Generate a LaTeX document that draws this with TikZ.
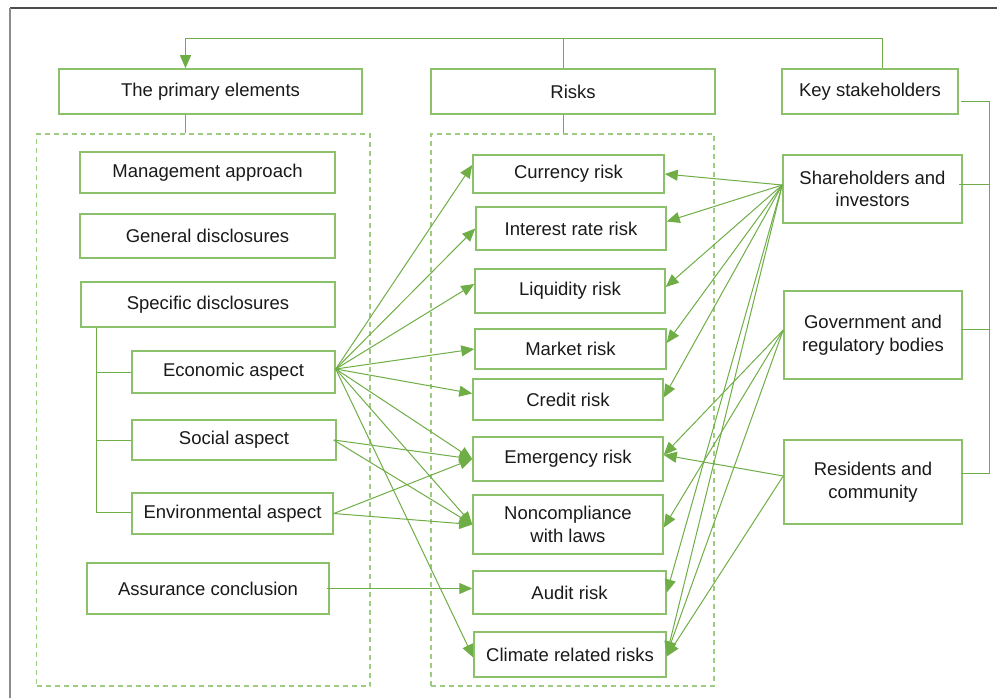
\documentclass[tikz,border=0pt]{standalone}
\usepackage{fontspec}
\setmainfont{Liberation Sans}
\usetikzlibrary{arrows.meta,calc}
\definecolor{boxgreen}{HTML}{8BC16A}
\definecolor{linegreen}{HTML}{6FAD46}
\definecolor{dashgreen}{HTML}{9DCB80}
\definecolor{txt}{HTML}{1A1A1A}
\newcommand\mkbox[6]{\node[box,minimum width=#4pt,minimum height=#5pt] (#1) at (#2,#3) {#6};}
\begin{document}
\begin{tikzpicture}[x=1pt,y=-1pt,
  box/.style={draw=boxgreen, fill=white, line width=1.5pt, inner sep=0pt, align=center, text=txt, font=\fontsize{18.5}{22.5}\selectfont},
  grp/.style={draw=dashgreen, line width=1.3pt, dash pattern=on 5pt off 4pt, inner sep=0pt},
  conn/.style={draw=linegreen, line width=1pt},
  arr/.style={conn, -{Triangle[length=13pt,width=11pt]}},
  frame/.style={draw=gray, line width=1.5pt}
]
\useasboundingbox (0,0) rectangle (997,698);
% outer frame
\coordinate (fo) at (10,8);
\coordinate (fr) at (997,8);
\coordinate (fb) at (10,698);
\draw[frame, draw=black!70, line width=1.2pt] (fo) -- (fr);
\draw[frame, draw=black!45] (fo) -- (fb);

% dashed groups
\node[grp, minimum width=333.5pt, minimum height=552pt] (lg) at (203.25,410) {};
\node[grp, minimum width=283pt, minimum height=552pt] (mg) at (572.5,410) {};

% header boxes
\mkbox{prim}{210.5}{91.5}{303}{45}{The primary elements}
\mkbox{risks}{573}{91.5}{284}{45}{Risks}
\mkbox{keys}{870}{91.5}{176}{45}{Key stakeholders}

% left column
\mkbox{mgmt}{207.5}{172.5}{255}{41}{Management approach}
\mkbox{gen}{207.5}{236}{255}{44}{General disclosures}
\mkbox{spec}{208}{304.5}{254}{45}{Specific disclosures}
\mkbox{econ}{233.5}{372}{203}{42}{Economic aspect}
\mkbox{soc}{234}{440}{204}{40}{Social aspect}
\mkbox{env}{232.5}{513.5}{201}{41}{Environmental aspect}
\mkbox{assur}{208}{588.5}{242}{51}{Assurance conclusion}

% risks column
\mkbox{cur}{568.5}{174}{191}{38}{Currency risk}
\mkbox{int}{571}{228.5}{190}{43}{Interest rate risk}
\mkbox{liq}{570}{291}{190}{44}{Liquidity risk}
\mkbox{mkt}{570.5}{349}{191}{40}{Market risk}
\mkbox{cred}{568}{399.5}{190}{41}{Credit risk}
\mkbox{emer}{568}{459}{190}{44}{Emergency risk}
\mkbox{nonc}{568}{524.5}{190}{59}{Noncompliance\\with laws}
\mkbox{audit}{569.5}{592.5}{193}{43}{Audit risk}
\mkbox{clim}{570}{654.5}{192}{45}{Climate related risks}

% stakeholders column
\mkbox{share}{872.5}{189}{179}{68}{Shareholders and\\investors}
\mkbox{gov}{873}{335}{178}{88}{Government and\\regulatory bodies}
\mkbox{res}{873}{482}{178}{84}{Residents and\\community}

% top connector
\coordinate (topy) at (0,39);
\coordinate (ka) at ([xshift=12pt]keys.north);
\coordinate (pa) at ([xshift=-25pt]prim.north);
\coordinate (ra) at ([xshift=-10pt]risks.north);
\draw[arr] (ka) -- (ka |- topy) -- (pa |- topy) -- (pa);
\draw[conn] (ra) -- (ra |- topy);

% header to groups
\coordinate (pb) at ([xshift=-25pt]prim.south);
\coordinate (rbm) at ([xshift=-10pt]risks.south);
\draw[conn] (pb) -- (pb |- lg.north);
\draw[conn] (rbm) -- (rbm |- mg.north);

% left bracket
\coordinate (lb) at (96,0);
\draw[conn] (spec.south -| lb) |- ([yshift=1pt]env.west);
\draw[conn] (econ.west -| lb) -- (econ.west);
\draw[conn] (soc.west -| lb) -- (soc.west);

% right bracket
\coordinate (rb) at (989,0);
\draw[conn] ([xshift=2pt,yshift=-10pt]keys.east) -- ([yshift=-10pt]keys.east -| rb) -- ([yshift=9pt]res.east -| rb) -- ([xshift=-1pt,yshift=9pt]res.east);
\draw[conn] ([xshift=-4pt,yshift=4pt]share.east) -- ([yshift=4pt]share.east -| rb);
\draw[conn] ([xshift=-1pt,yshift=6pt]gov.east) -- ([yshift=6pt]gov.east -| rb);

% economic aspect arrows
\coordinate (es) at ([yshift=3pt]econ.east);
\draw[arr] (es) -- ([yshift=9pt]cur.west);
\draw[arr] (es) -- (int.west);
\draw[arr] (es) -- ([yshift=7pt]liq.west);
\draw[arr] (es) -- (mkt.west);
\draw[arr] (es) -- ([yshift=6pt]cred.west);
\draw[arr] (es) -- (emer.west);
\draw[arr] (es) -- (nonc.west);
\draw[arr] (es) -- ([yshift=-3pt]clim.west);

% social and environmental
\draw[arr] ([xshift=-3pt]soc.east) -- (emer.west);
\draw[arr] ([xshift=-3pt]soc.east) -- (nonc.west);
\draw[arr] (env.east) -- (emer.west);
\draw[arr] (env.east) -- (nonc.west);

% assurance
\draw[arr] ([xshift=-3pt]assur.east) -- (assur.east -| audit.west);

% shareholders
\coordinate (ss) at ([yshift=4pt]share.west);
\draw[arr] (ss) -- (cur.east);
\draw[arr] (ss) -- ([yshift=7pt]int.east);
\draw[arr] (ss) -- ([yshift=4pt]liq.east);
\draw[arr] (ss) -- ([yshift=6pt]mkt.east);
\draw[arr] (ss) -- ([yshift=2pt]cred.east);
\draw[arr] (ss) -- (audit.east);
\draw[arr] (ss) -- (clim.east);

% government
\coordinate (gs) at ([yshift=5pt]gov.west);
\draw[arr] (gs) -- ([yshift=4pt]emer.east);
\draw[arr] (gs) -- ([yshift=-3pt]nonc.east);
\draw[arr] (gs) -- (clim.east);

% residents
\coordinate (rs) at ([yshift=6pt]res.west);
\draw[arr] (rs) -- ([yshift=4pt]emer.east);
\draw[arr] (rs) -- ([yshift=-2pt]clim.east);
\end{tikzpicture}
\end{document}
